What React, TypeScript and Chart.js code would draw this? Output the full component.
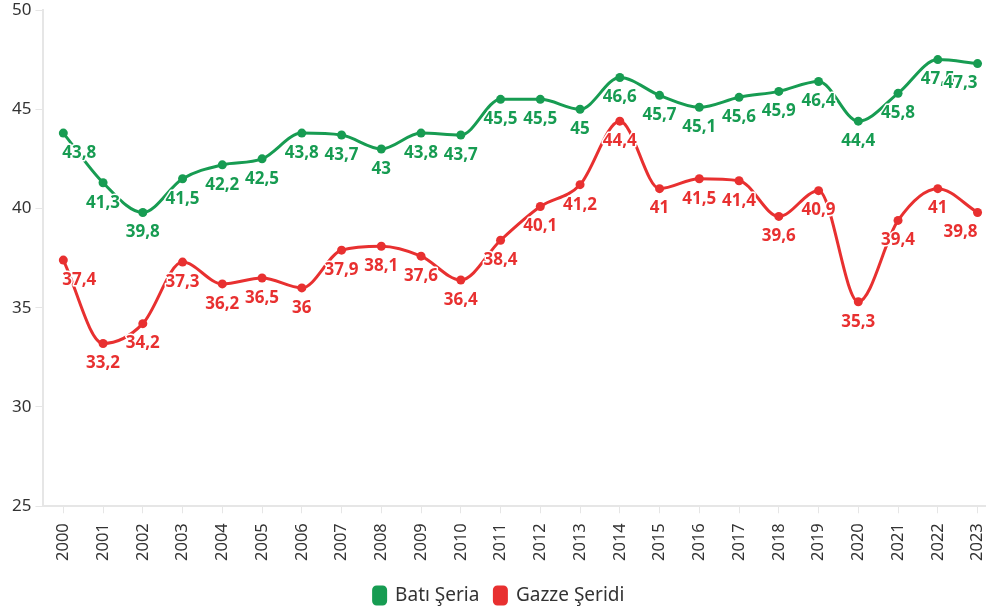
import React, { useEffect, useRef } from "react";
import { Chart, registerables } from "chart.js";

Chart.register(...registerables);

const years = ["2000","2001","2002","2003","2004","2005","2006","2007","2008","2009","2010","2011","2012","2013","2014","2015","2016","2017","2018","2019","2020","2021","2022","2023"];
const batiSeria = [43.8,41.3,39.8,41.5,42.2,42.5,43.8,43.7,43,43.8,43.7,45.5,45.5,45,46.6,45.7,45.1,45.6,45.9,46.4,44.4,45.8,47.5,47.3];
const gazzeSeridi = [37.4,33.2,34.2,37.3,36.2,36.5,36,37.9,38.1,37.6,36.4,38.4,40.1,41.2,44.4,41,41.5,41.4,39.6,40.9,35.3,39.4,41,39.8];
const yTicks = [25, 30, 35, 40, 45, 50];

const GREEN = "#179c52";
const RED = "#e83030";
const FONT = "'Noto Sans', sans-serif";

const labelPlugin = {
  id: "valueLabels",
  afterDatasetsDraw(chart: any) {
    const ctx = chart.ctx;
    ctx.save();
    ctx.font = `bold 17px ${FONT}`;
    ctx.textBaseline = "middle";
    ctx.lineJoin = "round";
    chart.data.datasets.forEach((ds: any, di: number) => {
      const meta = chart.getDatasetMeta(di);
      meta.data.forEach((pt: any, i: number) => {
        const v = ds.data[i].y;
        const txt = String(v).replace(".", ",");
        const n = meta.data.length;
        let align: CanvasTextAlign = "center";
        let x = pt.x;
        if (i === 0) { align = "left"; x = pt.x - 1; }
        else if (i === n - 1) { align = "right"; x = pt.x; }
        ctx.textAlign = align;
        const y = pt.y + 20;
        ctx.lineWidth = 3;
        ctx.strokeStyle = "#ffffff";
        ctx.strokeText(txt, x, y);
        ctx.fillStyle = ds.borderColor;
        ctx.fillText(txt, x, y);
      });
    });
    ctx.restore();
  },
};

export default function App() {
  const ref = useRef<HTMLCanvasElement>(null);
  useEffect(() => {
    const mk = (arr: number[]) => arr.map((v, i) => ({ x: i, y: v }));
    const chart = new Chart(ref.current!, {
      type: "line",
      data: {
        datasets: [
          {
            label: "Batı Şeria",
            data: mk(batiSeria),
            borderColor: GREEN,
            backgroundColor: GREEN,
            borderWidth: 3,
            pointRadius: 4.5,
            pointBackgroundColor: GREEN,
            pointBorderWidth: 0,
            cubicInterpolationMode: "monotone",
          },
          {
            label: "Gazze Şeridi",
            data: mk(gazzeSeridi),
            borderColor: RED,
            backgroundColor: RED,
            borderWidth: 3,
            pointRadius: 4.5,
            pointBackgroundColor: RED,
            pointBorderWidth: 0,
            cubicInterpolationMode: "monotone",
          },
        ],
      },
      options: {
        animation: false,
        responsive: false,
        layout: { padding: { left: 8, top: 10, right: 0, bottom: 0 } },
        plugins: {
          tooltip: { enabled: false },
          legend: {
            position: "bottom",
            labels: {
              boxWidth: 12,
              boxHeight: 17,
              useBorderRadius: true,
              borderRadius: 3,
              padding: 15,
              color: "#333333",
              font: { family: FONT, size: 19 },
            },
          },
        },
        scales: {
          x: {
            type: "linear",
            min: -0.5,
            max: 23.2,
            afterBuildTicks: (axis: any) => {
              axis.ticks = years.map((_, i) => ({ value: i }));
            },
            afterFit: (axis: any) => {
              axis.paddingRight = 0;
              axis.paddingLeft = 0;
            },
            ticks: {
              autoSkip: false,
              maxRotation: 90,
              minRotation: 90,
              color: "#333333",
              font: { family: FONT, size: 16.5 },
              padding: 10,
              callback: (v: any) => years[v] ?? "",
            },
            grid: {
              drawOnChartArea: false,
              drawTicks: true,
              tickLength: 7,
              color: "#e6e6e6",
            },
            border: { color: "#e6e6e6", width: 2 },
          },
          y: {
            min: 25,
            max: 50,
            afterBuildTicks: (axis: any) => {
              axis.ticks = yTicks.map((v) => ({ value: v }));
            },
            afterFit: (axis: any) => {
              axis.paddingTop = 0;
              axis.paddingBottom = 0;
            },
            ticks: {
              color: "#333333",
              font: { family: FONT, size: 17 },
              padding: 4,
            },
            grid: {
              drawOnChartArea: false,
              drawTicks: true,
              tickLength: 8,
              color: "#e6e6e6",
            },
            border: { color: "#e6e6e6", width: 2 },
          },
        },
      },
      plugins: [labelPlugin],
    });
    return () => chart.destroy();
  }, []);
  return (
    <div style={{ position: "fixed", left: 0, top: 0, width: 990, height: 615, background: "#fff" }}>
      <canvas ref={ref} width={990} height={615} />
    </div>
  );
}
